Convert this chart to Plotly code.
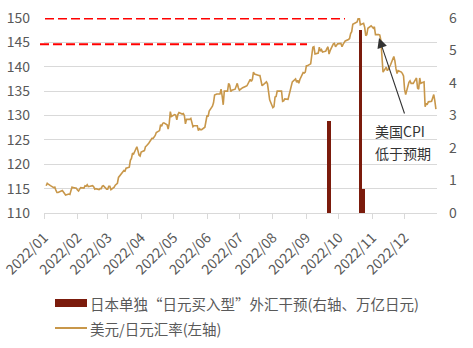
import pandas as pd
import plotly.graph_objects as go

# USD/JPY daily close, 2022, business days per month (left axis)
jan = [115.6, 116.1, 115.9, 115.8, 115.6, 115.2, 115.3, 114.7, 114.2, 114.2, 114.6, 114.6, 114.3, 114.1, 113.7,
       113.9, 113.8, 114.6, 115.3, 115.2, 115.1]
feb = [114.7, 114.5, 114.9, 115.2, 115.1, 115.6, 115.5, 115.8, 115.4, 115.6, 115.6, 115.4, 114.9, 115.0,
       114.8, 115.0, 115.0, 115.5, 115.6, 114.9]
mar = [114.9, 115.5, 115.5, 114.8, 115.3, 115.7, 115.9, 116.1, 117.3, 118.2, 118.3, 118.7, 118.6, 119.2,
       119.4, 120.8, 121.2, 122.3, 122.1, 123.6, 122.8, 121.9, 121.7]
apr = [122.5, 122.8, 123.6, 123.8, 124.0, 124.3, 125.3, 125.3, 125.6, 125.9, 126.5, 126.9, 128.1, 127.8,
       128.4, 128.5, 128.1, 127.2, 128.4, 130.8, 129.8]
may = [130.2, 130.1, 129.1, 130.2, 130.6, 130.3, 130.4, 130.0, 128.3, 129.2, 129.2, 129.4, 128.4, 127.7,
       127.9, 127.9, 126.9, 127.3, 127.1, 127.1, 127.6, 128.7]
jun = [130.0, 129.8, 130.9, 131.9, 132.6, 134.2, 134.4, 134.4, 134.4, 135.4, 134.0, 132.2, 135.0, 135.0,
       136.6, 136.2, 134.9, 135.2, 135.4, 136.1, 136.6, 135.7]
jul = [135.2, 135.7, 135.9, 135.9, 136.0, 136.1, 137.4, 137.0, 137.4, 138.9, 138.5, 138.2, 138.2, 138.2,
       137.4, 136.1, 136.7, 136.9, 136.5, 134.2, 133.2]
aug = [131.6, 131.8, 133.8, 133.9, 135.0, 134.9, 135.0, 132.9, 133.0, 133.4, 133.3, 134.2, 135.1, 135.9,
       136.9, 137.5, 136.8, 137.2, 136.6, 137.4, 138.8, 138.7, 138.9]
sep = [140.2, 140.2, 140.6, 143.1, 144.0, 144.1, 142.6, 142.8, 144.0, 143.2, 143.5, 143.0, 143.2, 143.7,
       144.1, 142.6, 143.3, 144.7, 144.8, 144.1, 144.4, 144.7]
oct_ = [144.8, 144.1, 144.6, 145.1, 145.3, 145.6, 145.8, 146.8, 147.2, 148.7, 149.0, 149.2, 149.9, 150.1,
        148.6, 148.9, 148.1, 146.4, 146.6, 147.9, 148.4]
nov = [148.0, 147.9, 148.2, 146.6, 146.6, 146.5, 145.4, 141.0, 138.9, 139.9, 139.2, 139.5, 140.2, 140.4,
       142.1, 141.2, 139.6, 138.6, 139.2, 138.9, 138.6, 138.1]
dec = [135.3, 134.3, 136.8, 137.1, 136.6, 136.6, 136.6, 137.7, 135.6, 135.4, 137.7, 136.6, 136.9, 131.8,
       132.4, 132.3, 132.8, 132.9, 133.5, 134.3, 133.0, 131.3]
monthly = [jan, feb, mar, apr, may, jun, jul, aug, sep, oct_, nov, dec]

# Japan "yen-buying" FX intervention (right axis, trillion yen)
interv_dates = ["2022-09-22", "2022-10-21", "2022-10-24"]
interv_values = [2.84, 5.62, 0.73]

left_ticks = [110, 115, 120, 125, 130, 135, 140, 145, 150]
right_ticks = [0, 1, 2, 3, 4, 5, 6]
ref_levels = [150, 145]  # red dashed reference levels

name_bar = "日本单独“日元买入型”外汇干预(右轴、万亿日元)"
name_line = "美元/日元汇率(左轴)"

dates, rates = [], []
for m, vals in enumerate(monthly, start=1):
    start = pd.Timestamp(2022, m, 1)
    d = pd.bdate_range(start, start + pd.offsets.MonthEnd(0))
    n = min(len(d), len(vals))
    dates.extend(list(d[:n]))
    rates.extend(vals[:n])

LINE = "#C8974A"
BAR = "#7B1B0C"
GRAY = "#595959"
FONT = "Noto Sans CJK SC"

fig = go.Figure()
fig.add_trace(go.Bar(x=pd.to_datetime(interv_dates), y=interv_values, yaxis="y2",
                     width=3 * 86400000, marker=dict(color=BAR, line=dict(width=0)),
                     name=name_bar, showlegend=False))
fig.add_trace(go.Scatter(x=dates, y=rates, mode="lines", line=dict(color=LINE, width=1.6),
                         name=name_line, showlegend=False))

# plot area in pixels: x 44..437, y 18..213
W, H = 473, 348
L, R, T, B = 44, 36, 18, 135
pw, ph = W - L - R, H - T - B


def px(x):
    return (x - L) / pw


def py(y):
    return (T + ph - y) / ph


shapes = [
    dict(type="line", xref="paper", yref="y", x0=px(45), x1=px(345), y0=ref_levels[0] - 0.1,
         y1=ref_levels[0] - 0.1, line=dict(color="#FF0000", width=2, dash="9px,4px")),
    dict(type="line", xref="paper", yref="y", x0=px(40), x1=px(307), y0=ref_levels[1] - 0.4,
         y1=ref_levels[1] - 0.4, line=dict(color="#FF0000", width=2, dash="9px,4px")),
    # custom legend swatches
    dict(type="rect", xref="paper", yref="paper", x0=px(55), x1=px(87), y0=py(307), y1=py(299),
         fillcolor=BAR, line=dict(width=0)),
    dict(type="line", xref="paper", yref="paper", x0=px(55), x1=px(87), y0=py(328), y1=py(328),
         line=dict(color=LINE, width=2)),
]

annotations = [
    dict(xref="paper", yref="paper", x=px(379), y=py(38), ax=26, ay=77, text="", showarrow=True,
         arrowhead=2, arrowsize=1.8, arrowwidth=1.1, arrowcolor="#333333", standoff=0),
    dict(xref="paper", yref="paper", x=px(373), y=py(131), text="美国CPI", showarrow=False,
         xanchor="left", yanchor="middle", font=dict(size=14, color="#333333", family=FONT)),
    dict(xref="paper", yref="paper", x=px(373), y=py(153), text="低于预期", showarrow=False,
         xanchor="left", yanchor="middle", font=dict(size=14, color="#333333", family=FONT)),
    dict(xref="paper", yref="paper", x=px(88), y=py(303), text=name_bar, showarrow=False,
         xanchor="left", yanchor="middle", font=dict(size=14.5, color=GRAY, family=FONT)),
    dict(xref="paper", yref="paper", x=px(88), y=py(328), text=name_line, showarrow=False,
         xanchor="left", yanchor="middle", font=dict(size=14.5, color=GRAY, family=FONT)),
]

fig.update_layout(
    width=W, height=H,
    margin=dict(l=L, r=R, t=T, b=B, pad=0, autoexpand=False),
    paper_bgcolor="white", plot_bgcolor="white",
    font=dict(family=FONT, color=GRAY, size=13),
    bargap=0,
    shapes=shapes, annotations=annotations,
    xaxis=dict(type="date", range=["2022-01-01", "2022-12-31"], tick0="2022-01-01", dtick="M1",
               tickformat="%Y/%m", tickangle=-45, ticks="outside", ticklen=5, tickcolor="#D9D9D9",
               showline=True, linecolor="#D9D9D9", linewidth=1, showgrid=False, zeroline=False,
               ticklabelstandoff=5, automargin=False,
               tickfont=dict(size=14, color=GRAY, family=FONT)),
    yaxis=dict(range=[110, 150], tickvals=left_ticks, showgrid=True, gridcolor="#D9D9D9",
               gridwidth=1, zeroline=False, showline=False, ticks="", ticklabelstandoff=13,
               automargin=False, tickfont=dict(size=14, color=GRAY, family=FONT)),
    yaxis2=dict(range=[0, 6], tickvals=right_ticks, overlaying="y", side="right", showgrid=False,
                zeroline=False, showline=False, ticks="", ticklabelstandoff=11, automargin=False,
                tickfont=dict(size=14, color=GRAY, family=FONT)),
    showlegend=False,
)

fig.write_html("out.html")
